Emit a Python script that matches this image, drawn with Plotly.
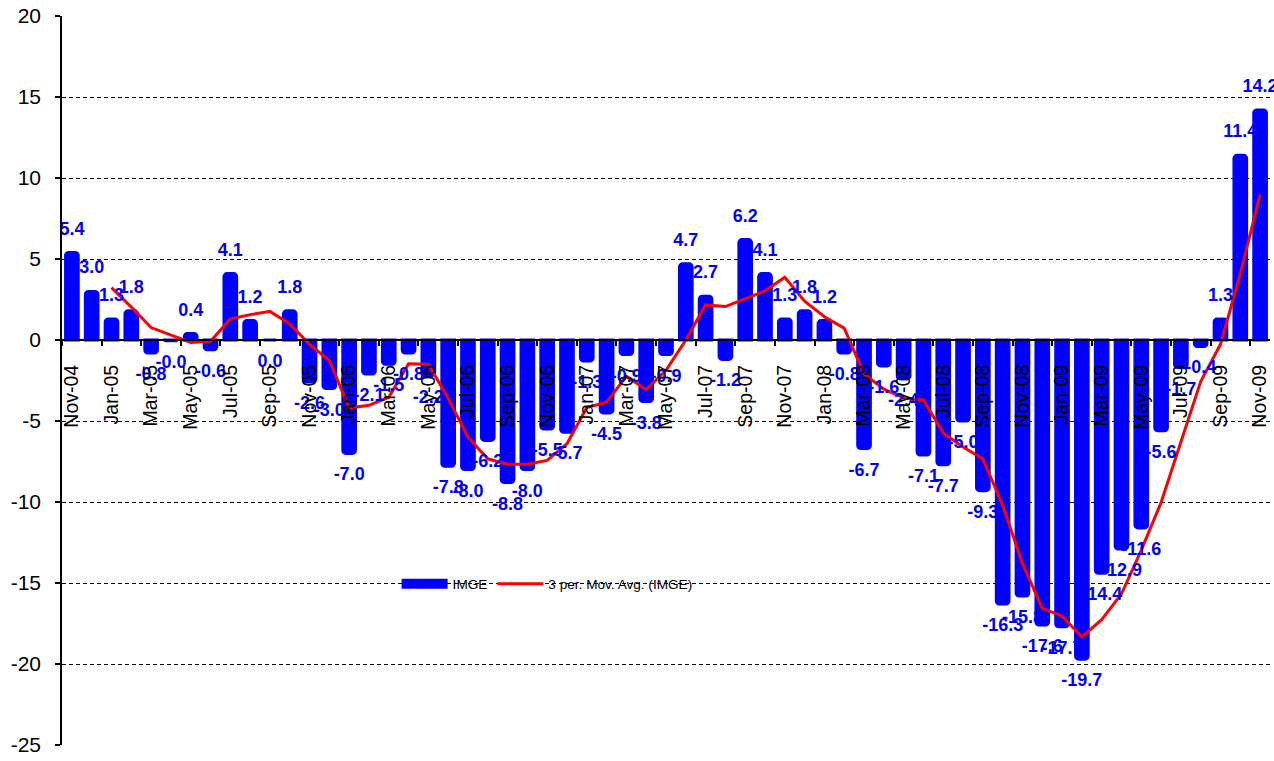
import plotly.graph_objects as go
import pandas as pd

months = ["Nov-04", "Dec-04",
          "Jan-05", "Feb-05", "Mar-05", "Apr-05", "May-05", "Jun-05", "Jul-05", "Aug-05", "Sep-05", "Oct-05", "Nov-05", "Dec-05",
          "Jan-06", "Feb-06", "Mar-06", "Apr-06", "May-06", "Jun-06", "Jul-06", "Aug-06", "Sep-06", "Oct-06", "Nov-06", "Dec-06",
          "Jan-07", "Feb-07", "Mar-07", "Apr-07", "May-07", "Jun-07", "Jul-07", "Aug-07", "Sep-07", "Oct-07", "Nov-07", "Dec-07",
          "Jan-08", "Feb-08", "Mar-08", "Apr-08", "May-08", "Jun-08", "Jul-08", "Aug-08", "Sep-08", "Oct-08", "Nov-08", "Dec-08",
          "Jan-09", "Feb-09", "Mar-09", "Apr-09", "May-09", "Jun-09", "Jul-09", "Aug-09", "Sep-09", "Oct-09", "Nov-09"]

imge = [5.4, 3.0,
        1.3, 1.8, -0.8, -0.04, 0.4, -0.6, 4.1, 1.2, 0.0, 1.8, -2.6, -3.0,
        -7.0, -2.1, -1.5, -0.8, -2.2, -7.8, -8.0, -6.2, -8.8, -8.0, -5.5, -5.7,
        -1.3, -4.5, -0.9, -3.8, -0.9, 4.7, 2.7, -1.2, 6.2, 4.1, 1.3, 1.8,
        1.2, -0.8, -6.7, -1.6, -2.4, -7.1, -7.7, -5.0, -9.3, -16.3, -15.8, -17.6,
        -17.7, -19.7, -14.4, -12.9, -11.6, -5.6, -1.7, -0.4, 1.3, 11.4, 14.2]

y_ticks = [-25, -20, -15, -10, -5, 0, 5, 10, 15, 20]

idx = list(range(len(months)))
ma = pd.Series(imge).rolling(3).mean()
ma_x = [i for i in idx if not pd.isna(ma[i])]
ma_y = [ma[i] for i in ma_x]

BLUE = "#0000FF"
FONT = "Arial, Liberation Sans, sans-serif"
fig = go.Figure()

fig.add_trace(go.Bar(
    x=idx, y=imge, name="IMGE", showlegend=False,
    marker=dict(color=BLUE, line=dict(color=BLUE, width=3)),
    hoverinfo="x+y",
))

# legend entry for the bars (wide blue rectangle like the reference)
fig.add_trace(go.Scatter(
    x=[None], y=[None], mode="lines", name="IMGE",
    line=dict(color=BLUE, width=10),
))

fig.add_trace(go.Scatter(
    x=ma_x, y=ma_y, mode="lines", name="3 per. Mov. Avg. (IMGE)",
    line=dict(color="#FF0000", width=3),
))

fig.add_trace(go.Scatter(
    x=idx, y=imge, mode="markers+text", showlegend=False,
    text=[f"{v:.1f}" for v in imge],
    textposition=["top center" if v > 0 else "bottom center" for v in imge],
    textfont=dict(family=FONT, size=18, color=BLUE, weight="bold"),
    cliponaxis=False, hoverinfo="skip",
    marker=dict(size=20, opacity=0),
))

fig.update_layout(
    width=1274, height=761,
    margin=dict(l=62, r=4, t=16, b=16),
    plot_bgcolor="white", paper_bgcolor="white",
    bargap=0.36,
    barcornerradius=3,
    font=dict(family=FONT, color="black"),
    legend=dict(
        orientation="h", x=0.277, y=0.221, xanchor="left", yanchor="middle",
        bgcolor="rgba(0,0,0,0)", font=dict(size=13.6, color="black"),
        itemwidth=46, tracegroupgap=0,
    ),
    showlegend=True,
)

fig.update_yaxes(
    range=[-25, 20], tickvals=y_ticks, ticktext=[str(v) for v in y_ticks],
    showgrid=True, gridcolor="black", gridwidth=1, griddash="4px,3px",
    zeroline=False,
    showline=True, linecolor="black", linewidth=1.5,
    ticks="outside", ticklen=5, tickcolor="black", tickwidth=1.5,
    tickfont=dict(size=21, color="black"), ticklabelstandoff=10,
)

fig.update_xaxes(
    range=[-0.5, len(months) - 0.5],
    tickvals=idx[::2], ticktext=months[::2], tickangle=-90,
    tickfont=dict(size=19.5, color="black"),
    anchor="free", position=25 / 45,
    showline=True, linecolor="black", linewidth=2,
    showgrid=False, zeroline=False,
    ticks="outside", ticklen=16, tickcolor="rgba(0,0,0,0)",
    minor=dict(ticks="outside", ticklen=5, tickcolor="black", tickwidth=1.5,
               tickmode="array", tickvals=[i + 0.5 for i in range(-1, len(months), 2)],
               showgrid=False),
)

fig.write_html("out.html", config={"displayModeBar": False},
               post_script="document.body.style.margin='0px';")
